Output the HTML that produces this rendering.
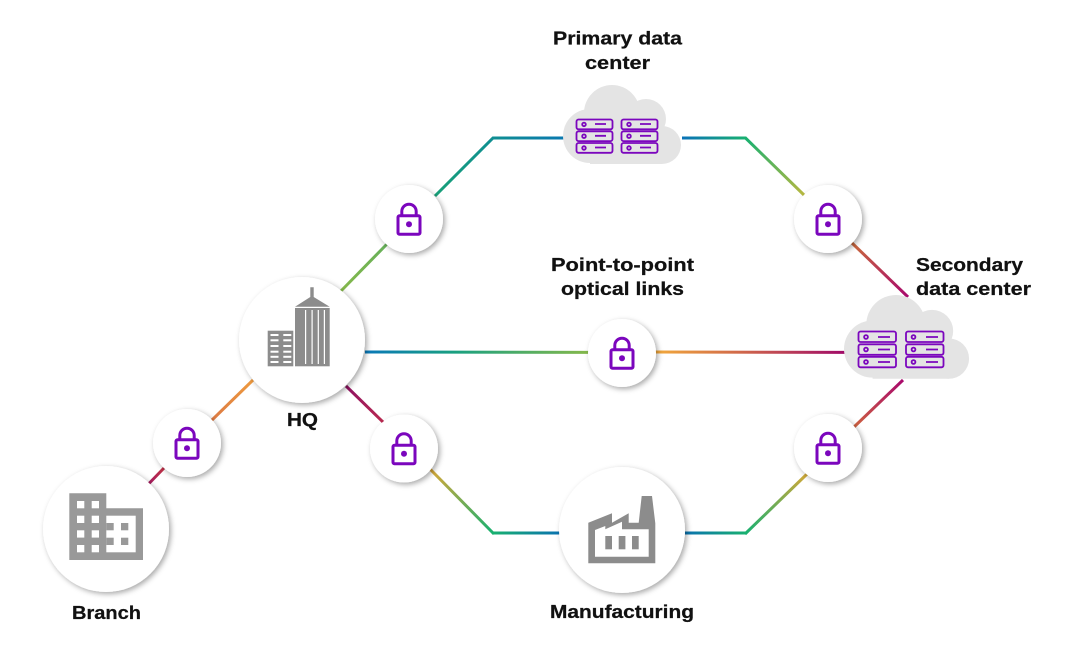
<!DOCTYPE html>
<html>
<head>
<meta charset="utf-8">
<style>
html,body{margin:0;padding:0;background:#fff}
svg{display:block}
text{font-family:"Liberation Sans",sans-serif;font-weight:bold;font-size:18.5px;fill:#111;stroke:#111;stroke-width:.25}
</style>
</head>
<body>
<svg width="1070" height="649" viewBox="0 0 1070 649" xmlns="http://www.w3.org/2000/svg">
<defs>
<filter id="s" x="-30%" y="-30%" width="160%" height="160%"><feDropShadow dx="2" dy="2" stdDeviation="2.6" flood-color="#000" flood-opacity=".34"/></filter>
<linearGradient id="a1" gradientUnits="userSpaceOnUse" x1="340" y1="292" x2="387" y2="244"><stop offset="0" stop-color="#86b84a"/><stop offset="1" stop-color="#66b05a"/></linearGradient>
<linearGradient id="a2" gradientUnits="userSpaceOnUse" x1="435" y1="196" x2="565" y2="138"><stop offset="0" stop-color="#18a078"/><stop offset=".5" stop-color="#109090"/><stop offset="1" stop-color="#0a78b0"/></linearGradient>
<linearGradient id="b1" gradientUnits="userSpaceOnUse" x1="682" y1="138" x2="746" y2="138"><stop offset="0" stop-color="#0a72b8"/><stop offset="1" stop-color="#18b070"/></linearGradient>
<linearGradient id="b2" gradientUnits="userSpaceOnUse" x1="746" y1="138" x2="804" y2="195"><stop offset="0" stop-color="#18b070"/><stop offset="1" stop-color="#b8b840"/></linearGradient>
<linearGradient id="b3" gradientUnits="userSpaceOnUse" x1="852" y1="243" x2="908" y2="297"><stop offset="0" stop-color="#c96a3c"/><stop offset="1" stop-color="#a8086c"/></linearGradient>
<linearGradient id="g3" gradientUnits="userSpaceOnUse" x1="365" y1="352" x2="590" y2="352"><stop offset="0" stop-color="#0a78b8"/><stop offset=".4" stop-color="#1aa080"/><stop offset="1" stop-color="#86b84a"/></linearGradient>
<linearGradient id="g4" gradientUnits="userSpaceOnUse" x1="655" y1="352" x2="845" y2="352"><stop offset="0" stop-color="#f2a93b"/><stop offset=".45" stop-color="#d0684a"/><stop offset="1" stop-color="#a00a68"/></linearGradient>
<linearGradient id="c1" gradientUnits="userSpaceOnUse" x1="346" y1="386" x2="382" y2="421"><stop offset="0" stop-color="#8e1262"/><stop offset="1" stop-color="#b82850"/></linearGradient>
<linearGradient id="c2" gradientUnits="userSpaceOnUse" x1="431" y1="470" x2="493" y2="533"><stop offset="0" stop-color="#d8a838"/><stop offset="1" stop-color="#18b070"/></linearGradient>
<linearGradient id="c3" gradientUnits="userSpaceOnUse" x1="493" y1="533" x2="560" y2="533"><stop offset="0" stop-color="#18b070"/><stop offset="1" stop-color="#0a72b0"/></linearGradient>
<linearGradient id="d1" gradientUnits="userSpaceOnUse" x1="685" y1="533" x2="746" y2="533"><stop offset="0" stop-color="#0a72b0"/><stop offset="1" stop-color="#18b070"/></linearGradient>
<linearGradient id="d2" gradientUnits="userSpaceOnUse" x1="746" y1="533" x2="806" y2="475"><stop offset="0" stop-color="#18b070"/><stop offset="1" stop-color="#d0a838"/></linearGradient>
<linearGradient id="d3" gradientUnits="userSpaceOnUse" x1="855" y1="426" x2="903" y2="380"><stop offset="0" stop-color="#cc6040"/><stop offset="1" stop-color="#a8086c"/></linearGradient>
<linearGradient id="e1" gradientUnits="userSpaceOnUse" x1="253" y1="380" x2="212" y2="420"><stop offset="0" stop-color="#ee9a3e"/><stop offset="1" stop-color="#dc7a44"/></linearGradient>
<linearGradient id="e2" gradientUnits="userSpaceOnUse" x1="162" y1="470" x2="149" y2="483"><stop offset="0" stop-color="#bd3048"/><stop offset="1" stop-color="#a51a5e"/></linearGradient>
<g id="lk" fill="none" stroke="#7b06bd" stroke-width="3"><rect x="-11" y="-3.2" width="22" height="18.4" rx="1.5"/><path d="M-7.2 -3.2v-4.4a7.2 7.2 0 0 1 14.4 0v4.4"/><circle cx="0" cy="5.3" r="3" fill="#7b06bd" stroke="none"/></g>
</defs>

<g fill="none" stroke-width="3">
<line x1="340" y1="292" x2="387" y2="244" stroke="url(#a1)"/>
<polyline points="435,196 493,138 565,138" stroke="url(#a2)"/>
<line x1="682" y1="138" x2="746" y2="138" stroke="url(#b1)"/>
<line x1="745" y1="137.5" x2="804" y2="195" stroke="url(#b2)"/>
<line x1="852" y1="243" x2="908" y2="297" stroke="url(#b3)"/>
<line x1="365" y1="352" x2="590" y2="352.4" stroke="url(#g3)"/>
<line x1="655" y1="352" x2="845" y2="352.4" stroke="url(#g4)"/>
<line x1="346" y1="386" x2="384" y2="423" stroke="url(#c1)"/>
<line x1="430" y1="469" x2="494" y2="534" stroke="url(#c2)"/>
<line x1="493" y1="533" x2="560" y2="533" stroke="url(#c3)"/>
<line x1="685" y1="533" x2="746" y2="533" stroke="url(#d1)"/>
<line x1="745" y1="534" x2="807" y2="474" stroke="url(#d2)"/>
<line x1="854" y1="427" x2="903" y2="380" stroke="url(#d3)"/>
<line x1="253" y1="380" x2="211" y2="421" stroke="url(#e1)"/>
<line x1="164" y1="468" x2="149" y2="483.5" stroke="url(#e2)"/>
</g>

<!-- clouds -->
<g fill="#e4e4e4">
<g>
<circle cx="612" cy="113" r="28"/><circle cx="646" cy="119" r="20"/><circle cx="662" cy="145" r="19"/><circle cx="590" cy="136" r="27"/><rect x="590" y="125" width="72" height="39"/>
</g>
<g transform="translate(844,295) scale(1.06) translate(-563,-85)">
<circle cx="612" cy="113" r="28"/><circle cx="646" cy="119" r="20"/><circle cx="662" cy="145" r="19"/><circle cx="590" cy="136" r="27"/><rect x="590" y="125" width="72" height="39"/>
</g>
</g>

<!-- servers -->
<g fill="none" stroke="#7b06bd" stroke-width="1.8">
<rect x="576.5" y="119.5" width="36" height="9.8" rx="2"/><rect x="576.5" y="131.3" width="36" height="9.8" rx="2"/><rect x="576.5" y="143" width="36" height="9.8" rx="2"/>
<rect x="621.5" y="119.5" width="36" height="9.8" rx="2"/><rect x="621.5" y="131.3" width="36" height="9.8" rx="2"/><rect x="621.5" y="143" width="36" height="9.8" rx="2"/>
<path d="M595 124h11M595 135.8h11M595 147.5h11M640 124h11M640 135.8h11M640 147.5h11"/>
<circle cx="584" cy="124.4" r="1.8"/><circle cx="584" cy="136.2" r="1.8"/><circle cx="584" cy="148" r="1.8"/>
<circle cx="629" cy="124.4" r="1.8"/><circle cx="629" cy="136.2" r="1.8"/><circle cx="629" cy="148" r="1.8"/>
<rect x="858.5" y="331.5" width="37.5" height="10.5" rx="2"/><rect x="858.5" y="344.3" width="37.5" height="10.5" rx="2"/><rect x="858.5" y="356.8" width="37.5" height="10.5" rx="2"/>
<rect x="906" y="331.5" width="37.5" height="10.5" rx="2"/><rect x="906" y="344.3" width="37.5" height="10.5" rx="2"/><rect x="906" y="356.8" width="37.5" height="10.5" rx="2"/>
<path d="M878 337h12M878 349.5h12M878 362h12M926 337h12M926 349.5h12M926 362h12"/>
<circle cx="866" cy="337" r="1.9"/><circle cx="866" cy="349.5" r="1.9"/><circle cx="866" cy="362" r="1.9"/>
<circle cx="913.5" cy="337" r="1.9"/><circle cx="913.5" cy="349.5" r="1.9"/><circle cx="913.5" cy="362" r="1.9"/>
</g>

<!-- circles -->
<g fill="#fff" filter="url(#s)">
<circle cx="302" cy="340" r="63"/>
<circle cx="106" cy="529" r="63"/>
<circle cx="622" cy="530" r="63"/>
</g>
<g fill="#fff" filter="url(#s)">
<circle cx="409" cy="219" r="34"/>
<circle cx="828" cy="219" r="34"/>
<circle cx="622" cy="353" r="34"/>
<circle cx="404" cy="448.5" r="34"/>
<circle cx="828" cy="448" r="34"/>
<circle cx="187" cy="443" r="34"/>
</g>

<!-- locks -->
<use href="#lk" x="409" y="219"/>
<use href="#lk" x="828" y="219"/>
<use href="#lk" x="622" y="353"/>
<use href="#lk" x="404" y="448.5"/>
<use href="#lk" x="828" y="448"/>
<use href="#lk" x="187" y="443"/>

<!-- HQ icon -->
<g fill="#8c8c8c">
<rect x="295" y="308" width="34.7" height="58.3"/>
<polygon points="295,306.8 310.3,297 310.3,287.3 313.7,287.3 313.7,297 329.7,306.8"/>
<rect x="267.7" y="330.7" width="25.6" height="35.6"/>
</g>
<g fill="#fff">
<rect x="305" y="310" width="1.2" height="54"/><rect x="311.5" y="310" width="1.2" height="54"/><rect x="317.7" y="310" width="1.2" height="54"/><rect x="323.8" y="310" width="1.2" height="54"/>
<rect x="270.5" y="334" width="8" height="2"/><rect x="283.3" y="334" width="8" height="2"/>
<rect x="270.5" y="339.3" width="8" height="2"/><rect x="283.3" y="339.3" width="8" height="2"/>
<rect x="270.5" y="345" width="8" height="2"/><rect x="283.3" y="345" width="8" height="2"/>
<rect x="270.5" y="350.7" width="8" height="2"/><rect x="283.3" y="350.7" width="8" height="2"/>
<rect x="270.5" y="355.8" width="8" height="2"/><rect x="283.3" y="355.8" width="8" height="2"/>
<rect x="270.5" y="361" width="8" height="2"/><rect x="283.3" y="361" width="8" height="2"/>
</g>

<!-- Branch icon -->
<path fill="#999" d="M69.3 493.3H106.3V508.3H143V560H69.3Z"/>
<g fill="#fff">
<rect x="77" y="501" width="7.3" height="7.3"/><rect x="91.7" y="501" width="7.3" height="7.3"/>
<rect x="77" y="515.7" width="7.3" height="7.3"/><rect x="91.7" y="515.7" width="7.3" height="7.3"/>
<rect x="77" y="530.3" width="7.3" height="7.3"/><rect x="91.7" y="530.3" width="7.3" height="7.3"/>
<rect x="77" y="545" width="7.3" height="7.3"/><rect x="91.7" y="545" width="7.3" height="7.3"/>
<rect x="106.3" y="515.7" width="29.4" height="36.6"/>
</g>
<g fill="#999">
<rect x="121" y="523" width="7.3" height="7.3"/><rect x="121" y="537.7" width="7.3" height="7.3"/>
<rect x="106.3" y="523" width="7.4" height="7.3"/><rect x="106.3" y="537.7" width="7.4" height="7.3"/>
</g>

<!-- Factory icon -->
<polygon fill="#8c8c8c" points="588.3,563.3 588.3,522.7 612,513.3 612,522.7 628.7,513.3 628.7,522.7 638.7,522.7 641.7,496 652,496 655.3,523.3 655.3,563.3"/>
<polygon fill="#fff" points="595,556.7 595,530 605.3,526 605.3,529.3 622,521.7 622,529.3 648.7,529.3 648.7,556.7"/>
<g fill="#8c8c8c"><rect x="605.3" y="536" width="6.7" height="13.3"/><rect x="618.7" y="536" width="6.7" height="13.3"/><rect x="632" y="536" width="6.7" height="13.3"/></g>

<!-- labels -->
<text x="553" y="44.5" textLength="129" lengthAdjust="spacingAndGlyphs">Primary data</text>
<text x="585" y="69" textLength="65" lengthAdjust="spacingAndGlyphs">center</text>
<text x="551" y="271" textLength="143" lengthAdjust="spacingAndGlyphs">Point-to-point</text>
<text x="561" y="295" textLength="123" lengthAdjust="spacingAndGlyphs">optical links</text>
<text x="916" y="271" textLength="107" lengthAdjust="spacingAndGlyphs">Secondary</text>
<text x="916" y="295" textLength="115" lengthAdjust="spacingAndGlyphs">data center</text>
<text x="287" y="426" textLength="31" lengthAdjust="spacingAndGlyphs">HQ</text>
<text x="72" y="619" textLength="69" lengthAdjust="spacingAndGlyphs">Branch</text>
<text x="550" y="618" textLength="144" lengthAdjust="spacingAndGlyphs">Manufacturing</text>
</svg>
</body>
</html>
